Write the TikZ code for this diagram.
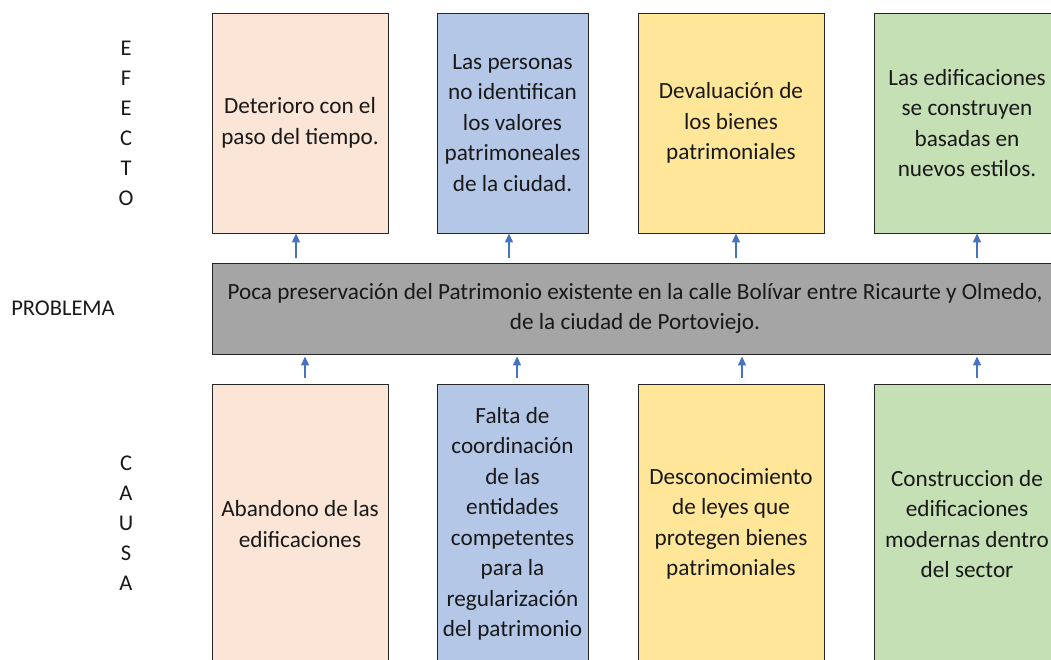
\documentclass[tikz,border=0pt]{standalone}
\usepackage{fontspec}
\setmainfont{Carlito}
\usepackage{tikz}
\usetikzlibrary{arrows.meta}
\definecolor{salmon}{HTML}{FBE5D6}
\definecolor{celeste}{HTML}{B4C7E7}
\definecolor{amarillo}{HTML}{FFE699}
\definecolor{verde}{HTML}{C5E0B4}
\definecolor{gris}{HTML}{A5A5A5}
\definecolor{azul}{HTML}{4472C4}

\begin{document}
\begin{tikzpicture}[
  x=1pt, y=-1pt,
  caja/.style={
    draw=black!85, line width=0.9pt, align=center,
    inner sep=0pt, text=black!90, font=\fontsize{23.2}{30.5}\selectfont
  },
  efecto/.style={caja, minimum height=220pt},
  causa/.style={caja, minimum height=280pt},
  letra/.style={font=\fontsize{22.5}{26}\selectfont, text=black!90, inner sep=0pt},
  flecha/.style={
    draw=azul, line width=1.3pt,
    -{Triangle[length=9pt, width=8pt]}
  }
]
  \useasboundingbox (0,0) rectangle (1051,660);
  \clip (0,0) rectangle (1051,660);
  % efectos
  \node[efecto, fill=salmon, minimum width=176pt] (e1) at (300,123)
    {Deterioro con el\\paso del tiempo.};
  \node[efecto, fill=celeste, minimum width=151pt] (e2) at (512.5,123)
    {Las personas\\no identifican\\los valores\\patrimoneales\\de la ciudad.};
  \node[efecto, fill=amarillo, minimum width=186pt] (e3) at (731,123)
    {Devaluación de\\los bienes\\patrimoniales};
  \node[efecto, fill=verde, minimum width=186pt] (e4) at (967,123)
    {Las edificaciones\\se construyen\\basadas en\\nuevos estilos.};
  % problema
  \node[caja, fill=gris, minimum width=846pt, minimum height=91pt] (prob) at (635,308.5)
    {Poca preservación del Patrimonio existente en la calle Bolívar entre Ricaurte y Olmedo,\\de la ciudad de Portoviejo.};
  % causas
  \node[causa, fill=salmon, minimum width=176pt] (c1) at (300,524)
    {Abandono de las\\edificaciones};
  \node[causa, fill=celeste, minimum width=151pt] (c2) at (512.5,524)
    {Falta de\\coordinación\\de las\\entidades\\competentes\\para la\\regularización\\del patrimonio};
  \node[causa, fill=amarillo, minimum width=186pt] (c3) at (731,524)
    {Desconocimiento\\de leyes que\\protegen bienes\\patrimoniales};
  \node[causa, fill=verde, minimum width=186pt] (c4) at (967,524)
    {Construccion de\\edificaciones\\modernas dentro\\del sector};
  % flechas
  \foreach \i/\xt/\xb in {1/296/305, 2/509/517, 3/736/742, 4/977/977} {
    \draw[flecha, shorten <=5pt] (prob.north -| \xt,0) -- (e\i.south -| \xt,0);
    \draw[flecha, shorten <=6pt, shorten >=2pt] (c\i.north -| \xb,0) -- (prob.south -| \xb,0);
  }
  % etiquetas
  \foreach \l [count=\k] in {E,F,E,C,T,O}
    \node[letra] (ef\k) at (126,18+30*\k) {\l};
  \node[letra] (pr) at (63,308) {PROBLEMA};
  \foreach \l [count=\k] in {C,A,U,S,A}
    \node[letra] (ca\k) at (126,433+30*\k) {\l};
\end{tikzpicture}
\end{document}
